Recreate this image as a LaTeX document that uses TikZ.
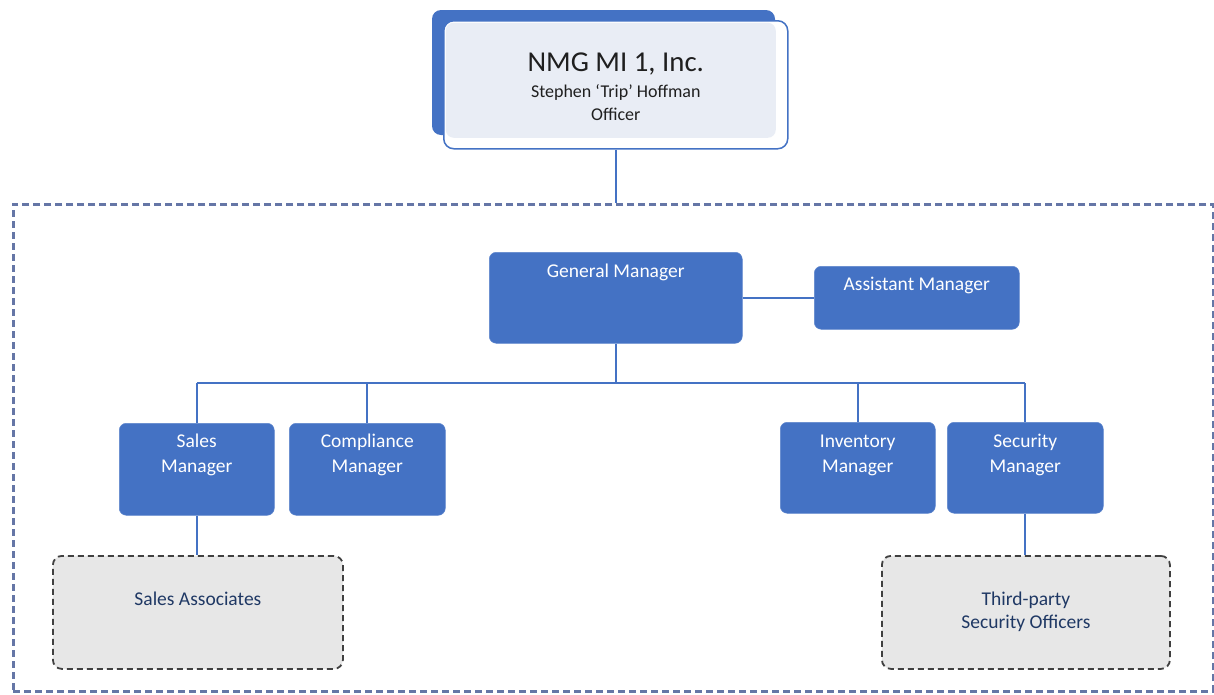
\documentclass[tikz,border=0pt]{standalone}
\usepackage{fontspec}
\setmainfont{Carlito}
\usetikzlibrary{positioning}
\definecolor{orgblue}{HTML}{4472C4}
\definecolor{topfill}{HTML}{E9EDF5}
\definecolor{framecol}{HTML}{6576A6}
\definecolor{staffgray}{HTML}{E7E7E7}
\definecolor{stafftext}{HTML}{1F3864}

\begin{document}
\begin{tikzpicture}[x=1pt, y=-1pt,
    mgr/.style={rectangle, rounded corners=7pt, fill=orgblue, draw=orgblue!85!white,
      line width=.5pt, text=white, align=center, inner sep=0pt, anchor=north west,
      font=\fontsize{19.5}{25}\selectfont},
    staff/.style={rectangle, rounded corners=9pt, fill=staffgray, draw=black!75,
      dash pattern=on 6pt off 4pt, line width=1.8pt, text=stafftext, align=center,
      inner sep=0pt, anchor=north west, font=\fontsize{19.5}{23}\selectfont},
    link/.style={orgblue, line width=2pt}]
  \useasboundingbox (0,0) rectangle (1214,694);
  % company card
  \fill[orgblue, rounded corners=9pt] (432,10) rectangle (775,135);
  \node[anchor=north west, minimum width=344, rounded corners=10pt, draw=orgblue, line width=1.5pt,
    fill=white, text height=100, text depth=28, inner sep=0pt, align=center, text=black!88,
    font=\fontsize{18}{23}\selectfont,
    path picture={\fill[topfill, rounded corners=8pt]
      ([shift={(2,2)}]path picture bounding box.north west) rectangle
      ([shift={(-12,-11)}]path picture bounding box.south east);}] (top) at (443,20)
    {{\fontsize{28.8}{28.8}\selectfont NMG MI 1, Inc.}\\[3pt] Stephen `Trip' Hoffman\\ Officer};
  % store frame
  \node[draw=framecol, dash pattern=on 7pt off 4pt, line width=2.5pt, anchor=north west,
    minimum width=1200, minimum height=487, inner sep=0pt] (unit) at (12,203) {};
  \draw[link] (top.south) -- (top.south |- unit.north);
  % managers
  \node[mgr, minimum width=253, text height=25, text depth=66] (gm) at (489,252) {General Manager};
  \node[mgr, minimum width=205, text height=24, text depth=39] (am) at (814,266) {Assistant Manager};
  \node[mgr, minimum width=155, text height=49, text depth=43] (sales) at (119,423) {Sales\\Manager};
  \node[mgr, minimum width=156, text height=49, text depth=43] (comp) at (289,423) {Compliance\\Manager};
  \node[mgr, minimum width=155, text height=50, text depth=41] (inv) at (780,422) {Inventory\\Manager};
  \node[mgr, minimum width=156, text height=50, text depth=41] (sec) at (947,422) {Security\\Manager};
  % staff
  \node[staff, minimum width=290, text height=50, text depth=63] (assoc) at (52,555) {Sales Associates};
  \node[staff, minimum width=288, text height=73, text depth=40] (guards) at (881,555) {Third-party\\Security Officers};
  % connectors
  \draw[link] (gm.east) -- (am.west);
  \draw[link] (gm.south) -- ++(0,39) coordinate (bus);
  \draw[link] (bus -| sales.north) -- (bus -| sec.north);
  \foreach \n in {sales,comp,inv,sec}
    \draw[link] (\n.north) -- (\n.north |- bus);
  \draw[link] (sales.south) -- (sales.south |- assoc.north);
  \draw[link] (sec.south) -- (sec.south |- guards.north);
\end{tikzpicture}
\end{document}
